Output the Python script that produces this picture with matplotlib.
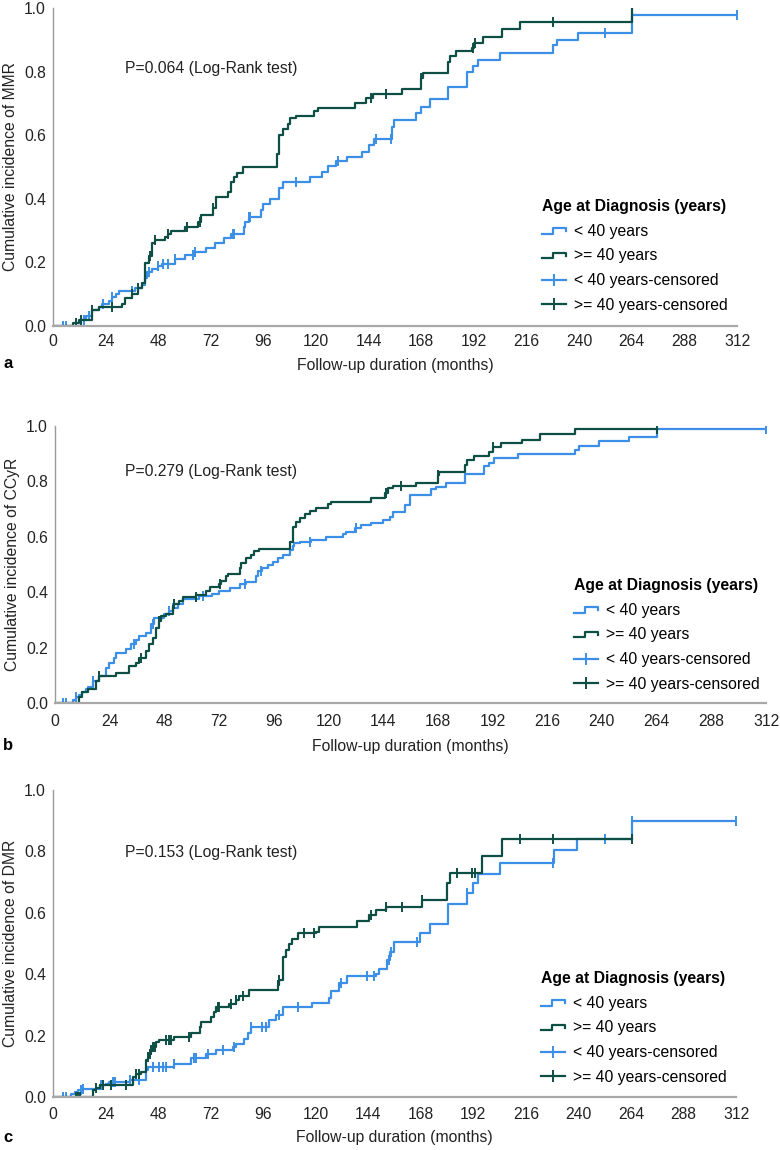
import numpy as np
import matplotlib
matplotlib.use("Agg")
import matplotlib.pyplot as plt
from matplotlib.lines import Line2D
from matplotlib.legend_handler import HandlerBase

plt.rcParams['font.family'] = ['Liberation Sans', 'DejaVu Sans']

BLUE = '#3b8fe6'
GREEN = '#0e4f45'
FS = 11.3

x_ticks = [0, 24, 48, 72, 96, 120, 144, 168, 192, 216, 240, 264, 288, 312]
y_ticks = [0.0, 0.2, 0.4, 0.6, 0.8, 1.0]
legend_title = 'Age at Diagnosis (years)'
legend_labels = ['< 40 years', '>= 40 years', '< 40 years-censored', '>= 40 years-censored']

# ---- panel a: MMR ----
a_young_t = [0, 12.8, 15, 18, 21, 22.5, 25.6, 27, 28.6, 30, 37.6, 40.6, 42, 42.8, 45, 48, 49.6,
             55.6, 60, 64.7, 70, 73.7, 78, 81, 87, 87.8, 89.5, 94.7, 96, 99, 103, 105, 117,
             122.6, 125.6, 129, 134, 141, 144, 146.6, 154.5, 155.5, 165.7, 168, 171.8, 180,
             189, 191.6, 194, 204, 228, 230, 239.5, 264]
a_young_p = [0, 0.02, 0.03, 0.05, 0.06, 0.07, 0.08, 0.09, 0.10, 0.11, 0.12, 0.13, 0.15, 0.17, 0.18,
             0.19, 0.195, 0.21, 0.223, 0.234, 0.244, 0.26, 0.276, 0.29, 0.312, 0.328, 0.344, 0.365,
             0.384, 0.40, 0.433, 0.454, 0.47, 0.485, 0.504, 0.52, 0.53, 0.548, 0.569, 0.587, 0.627,
             0.648, 0.669, 0.69, 0.713, 0.753, 0.80, 0.818, 0.837, 0.86, 0.884, 0.90, 0.922, 0.978]
a_young_end = 312
a_young_cens = [4.5, 6, 14.3, 16.5, 22.6, 27, 36, 43.6, 48, 50.4, 52.6, 55.6, 64, 64.7, 82, 82.7,
                89.5, 90, 111, 130, 147.4, 154, 251.6, 312]
a_old_t = [0, 9, 12, 18, 21, 31.6, 33, 36, 39, 40.6, 42, 43.6, 45, 46.6, 51, 52.6, 54, 60, 66, 67.7,
           73, 74.4, 79.7, 81, 82.7, 84, 86.5, 102, 103, 105, 107, 108, 111, 119, 121, 137.6, 143,
           146, 159, 168, 169, 180, 181, 184, 191, 192, 196, 205, 213, 264]
a_old_p = [0, 0.01, 0.02, 0.05, 0.06, 0.07, 0.087, 0.10, 0.12, 0.134, 0.197, 0.22, 0.26, 0.27, 0.28,
           0.29, 0.30, 0.312, 0.328, 0.35, 0.37, 0.407, 0.42, 0.454, 0.47, 0.48, 0.50, 0.54, 0.60,
           0.62, 0.635, 0.653, 0.66, 0.675, 0.685, 0.70, 0.716, 0.73, 0.744, 0.78, 0.797, 0.83,
           0.85, 0.866, 0.873, 0.889, 0.908, 0.933, 0.957, 1.0]
a_old_end = 264
a_old_cens = [10.5, 12.8, 18, 27, 36, 39, 44.4, 46.6, 52.6, 61, 67, 73, 145, 152, 168, 191.6,
              192.3, 228, 264]

# ---- panel b: CCyR ----
b_young_t = [0, 7.8, 9.2, 10.7, 12, 13.6, 14.3, 16.5, 19.5, 22.4, 23.9, 26, 26.8, 31.2, 33.4, 35.6,
             37, 40, 42, 43.6, 48, 50, 51.7, 53.9, 56, 63.4, 69, 72, 76.6, 81, 84, 88.3, 89, 91,
             93.4, 95.6, 97.8, 100, 103, 104.4, 105, 107.3, 112.4, 119, 126.4, 127.8, 131.5, 134.4,
             138.8, 144, 146.8, 148.3, 153.4, 155.6, 165, 167.3, 171.6, 179.7, 188.4, 190.6, 192.8,
             203, 228, 230, 238.8, 252, 264]
b_young_p = [0, 0.01, 0.02, 0.03, 0.04, 0.05, 0.056, 0.08, 0.098, 0.128, 0.146, 0.164, 0.182, 0.194,
             0.212, 0.226, 0.242, 0.254, 0.284, 0.308, 0.32, 0.332, 0.344, 0.356, 0.374, 0.386,
             0.395, 0.404, 0.416, 0.428, 0.437, 0.457, 0.475, 0.487, 0.497, 0.509, 0.523, 0.535,
             0.551, 0.565, 0.577, 0.583, 0.589, 0.599, 0.611, 0.619, 0.631, 0.641, 0.649, 0.659,
             0.673, 0.691, 0.715, 0.751, 0.771, 0.78, 0.796, 0.825, 0.856, 0.868, 0.883, 0.898,
             0.913, 0.928, 0.945, 0.96, 0.99]
b_young_end = 312
b_young_cens = [3.4, 4.8, 9.2, 16.5, 34.8, 42.9, 50.2, 51.7, 64.9, 83.2, 90.5, 111.7, 132.2, 312]
b_old_t = [0, 10.7, 12, 14.3, 18, 19.5, 26.8, 32.6, 35.6, 37, 40, 41.4, 43, 44.4, 45.8, 46.5, 48.8,
           51.7, 52.4, 54.6, 56, 62, 66.3, 67.8, 72, 72.8, 75, 75.8, 81, 81.7, 84, 86, 87.5, 89.7,
           103, 104.4, 105.9, 107.3, 109.5, 111.7, 114.6, 119.8, 121, 138.8, 144.6, 146, 148.3,
           158.5, 168, 168.7, 179.7, 181, 184, 190.6, 192, 195.7, 205, 213, 228]
b_old_p = [0, 0.02, 0.04, 0.05, 0.08, 0.098, 0.11, 0.134, 0.146, 0.164, 0.188, 0.212, 0.236, 0.272,
           0.296, 0.314, 0.32, 0.35, 0.358, 0.368, 0.383, 0.389, 0.404, 0.418, 0.428, 0.44, 0.457,
           0.467, 0.487, 0.505, 0.523, 0.535, 0.547, 0.557, 0.583, 0.637, 0.655, 0.669, 0.681,
           0.693, 0.705, 0.717, 0.727, 0.741, 0.757, 0.775, 0.783, 0.793, 0.823, 0.835, 0.861,
           0.877, 0.891, 0.907, 0.925, 0.937, 0.951, 0.970, 0.988]
b_old_end = 264
b_old_cens = [19.5, 37.8, 45.8, 52.4, 61.9, 72.2, 145.4, 152, 168, 192, 264]

# ---- panel c: DMR ----
c_young_t = [0, 8.4, 9.9, 11.4, 13.7, 21.3, 24.3, 25.8, 35, 42.6, 43.3, 55.5, 63, 70, 74.5, 82,
             83.6, 87.4, 89, 90.4, 98.8, 101.8, 104.9, 118.5, 126, 127, 130.7, 134.5, 147.4, 149,
             152.7, 154, 155.8, 167.7, 172.3, 180.6, 189, 192, 194.3, 204, 229, 239.2, 264.3]
c_young_p = [0, 0.011, 0.016, 0.022, 0.027, 0.038, 0.041, 0.049, 0.054, 0.087, 0.098, 0.109, 0.127,
             0.141, 0.152, 0.163, 0.174, 0.19, 0.209, 0.228, 0.25, 0.266, 0.293, 0.307, 0.321,
             0.345, 0.37, 0.393, 0.402, 0.418, 0.446, 0.473, 0.505, 0.535, 0.565, 0.63, 0.663,
             0.696, 0.728, 0.763, 0.804, 0.84, 0.899]
c_young_end = 312
c_young_cens = [4.6, 6.1, 12.9, 13.7, 22, 27.4, 28.1, 35, 39.5, 45.6, 48.6, 50.2, 51.7, 55.5, 64.6,
                65.3, 70.7, 77.5, 82.8, 90.4, 95.7, 97.3, 103.3, 111.7, 131.5, 143.6, 146.7, 153.5,
                154.5, 166.2, 189, 228.6, 252.2, 264.3, 312]
c_old_t = [0, 18.2, 19.8, 21.3, 36.5, 38, 40.3, 42.6, 43.3, 44, 44.8, 45.6, 47, 48.6, 55.5, 63, 67,
           67.7, 72, 73.7, 74.5, 80.5, 83.6, 85, 89.7, 102.6, 103.3, 104.9, 106.4, 108, 109.4,
           111.7, 120, 121.6, 139, 144.4, 147.4, 152, 168.5, 180, 181.4, 195.8, 205]
c_old_p = [0, 0.022, 0.03, 0.04, 0.065, 0.076, 0.082, 0.12, 0.13, 0.141, 0.152, 0.163, 0.179, 0.185,
           0.196, 0.207, 0.228, 0.245, 0.26, 0.277, 0.293, 0.304, 0.315, 0.33, 0.348, 0.364, 0.38,
           0.457, 0.478, 0.5, 0.514, 0.533, 0.538, 0.554, 0.573, 0.592, 0.609, 0.618, 0.641,
           0.696, 0.73, 0.785, 0.84]
c_old_end = 264.3
c_old_cens = [10.6, 11.4, 12.2, 19.8, 22.8, 26.6, 33.4, 38, 39.5, 43.3, 44.1, 44.8, 45.6, 46.4,
              51.7, 53.2, 54, 62.3, 75.2, 76, 81.3, 83.6, 86.6, 102.6, 103.3, 114.7, 119.3, 145.1,
              152, 159.3, 168.5, 184.4, 191.3, 192.8, 213.4, 228.3, 264.3]


class StepHandler(HandlerBase):
    # little step icon like the one SPSS draws in the legend
    def create_artists(self, legend, orig_handle, xdescent, ydescent, width, height, fontsize, trans):
        x0, y0 = -xdescent, -ydescent
        xs = [x0, x0 + 0.45 * width, x0 + 0.45 * width, x0 + width, x0 + width]
        ys = [y0 + 0.2 * height, y0 + 0.2 * height, y0 + 0.7 * height, y0 + 0.7 * height, y0 + 0.45 * height]
        ln = Line2D(xs, ys, color=orig_handle.get_color(), lw=orig_handle.get_linewidth())
        ln.set_transform(trans)
        return [ln]


def draw_curve(ax, t, p, end, cens, color):
    t = np.array(list(t) + [end])
    p = np.array(list(p) + [p[-1]])
    ax.step(t, p, where='post', color=color, lw=1.6)
    c = np.array(cens)
    idx = np.searchsorted(t, c, side='right') - 1
    ax.plot(c, p[idx], ls='none', marker='|', ms=6.5, mew=1.4, color=color)


fig = plt.figure(figsize=(7.8, 11.5), dpi=100)
W, H = 780.0, 1150.0

panels = [
    # left, right, top, bottom (px), ylabel, p text, letter, legend pos, data, p y, letter y, xlabel pad, tick pad
    (53, 737, 8, 326, 'Cumulative incidence of MMR', 'P=0.064 (Log-Rank test)', 'a', (542, 199),
     (a_young_t, a_young_p, a_young_end, a_young_cens, a_old_t, a_old_p, a_old_end, a_old_cens),
     69, 363, 6, 6),
    (55, 766, 426, 703, 'Cumulative incidence of CCyR', 'P=0.279 (Log-Rank test)', 'b', (574, 578),
     (b_young_t, b_young_p, b_young_end, b_young_cens, b_old_t, b_old_p, b_old_end, b_old_cens),
     472, 745, 7, 8),
    (53, 736, 790, 1097, 'Cumulative incidence of DMR', 'P=0.153 (Log-Rank test)', 'c', (541, 971),
     (c_young_t, c_young_p, c_young_end, c_young_cens, c_old_t, c_old_p, c_old_end, c_old_cens),
     853, 1137, 6, 7),
]

for (l, r, top, bot, ylab, ptxt, letter, legpos, d, py, ly, lpad, tpad) in panels:
    ax = fig.add_axes([l / W, 1 - bot / H, (r - l) / W, (bot - top) / H])
    yt, yp, ye, yc, ot, op, oe, oc = d
    draw_curve(ax, yt, yp, ye, yc, BLUE)
    draw_curve(ax, ot, op, oe, oc, GREEN)
    ax.set_xlim(0, 312)
    ax.set_ylim(0, 1.0)
    ax.set_xticks(x_ticks)
    ax.set_yticks(y_ticks)
    ax.set_yticklabels(['%.1f' % v for v in y_ticks])
    ax.tick_params(axis='x', length=0, labelsize=FS, colors='#222222', pad=tpad)
    ax.tick_params(axis='y', length=0, labelsize=FS, colors='#222222', pad=5)
    for s in ['top', 'right']:
        ax.spines[s].set_visible(False)
    ax.spines['left'].set_color('#9a9a9a')
    ax.spines['left'].set_linewidth(1.0)
    ax.spines['bottom'].set_color('#a8a8a8')
    ax.spines['bottom'].set_linewidth(1.6)
    ax.set_xlabel('Follow-up duration (months)', fontsize=FS, color='#222222', labelpad=lpad)
    ax.set_ylabel(ylab, fontsize=FS, color='#222222', labelpad=4)
    fig.text(125 / W, 1 - py / H, ptxt, fontsize=FS, va='center', color='#222222')
    fig.text(3 / W, 1 - ly / H, letter, fontsize=12, fontweight='bold', va='center')

    handles = [Line2D([], [], color=BLUE, lw=1.6), Line2D([], [], color=GREEN, lw=1.6),
               Line2D([], [], color=BLUE, lw=1.6, marker='|', ms=9, mew=1.4),
               Line2D([], [], color=GREEN, lw=1.6, marker='|', ms=9, mew=1.4)]
    leg = ax.legend(handles, legend_labels, title=legend_title, loc='upper left',
                    bbox_to_anchor=(legpos[0] / W, 1 - legpos[1] / H), bbox_transform=fig.transFigure,
                    frameon=False, fontsize=FS, title_fontproperties={'weight': 'bold', 'size': FS},
                    borderpad=0, borderaxespad=0, handlelength=1.5, handletextpad=0.55,
                    labelspacing=0.62, handler_map={handles[0]: StepHandler(), handles[1]: StepHandler()})
    leg._legend_box.align = 'left'

fig.savefig('out.png', dpi=100)
